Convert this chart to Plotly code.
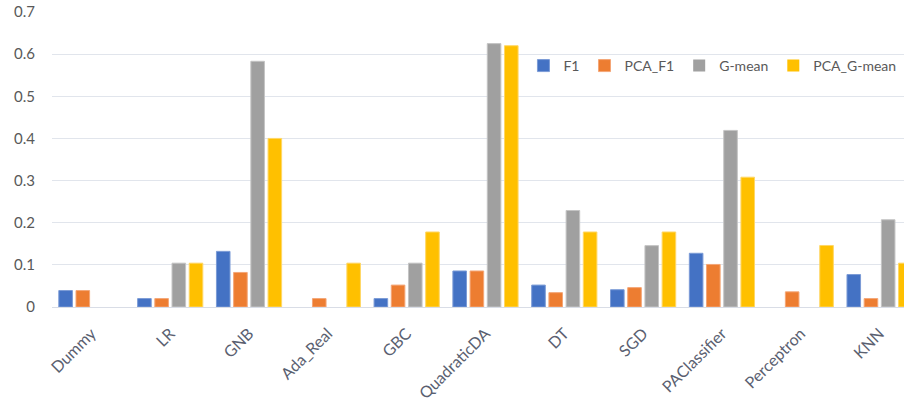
import plotly.graph_objects as go

categories = ["Dummy", "LR", "GNB", "Ada_Real", "GBC", "QuadraticDA", "DT", "SGD",
              "PAClassifier", "Perceptron", "KNN"]
f1 = [0.039, 0.020, 0.132, 0.0, 0.020, 0.0855, 0.052, 0.041, 0.1275, 0.0, 0.077]
pca_f1 = [0.039, 0.020, 0.082, 0.020, 0.052, 0.0855, 0.034, 0.046, 0.101, 0.036, 0.020]
g_mean = [0.0, 0.104, 0.583, 0.0, 0.104, 0.625, 0.229, 0.1456, 0.419, 0.0, 0.207]
pca_g_mean = [0.0, 0.104, 0.400, 0.104, 0.178, 0.620, 0.178, 0.178, 0.308, 0.146, 0.104]
y_ticks = [0, 0.1, 0.2, 0.3, 0.4, 0.5, 0.6, 0.7]
y_tick_labels = ["0", "0.1", "0.2", "0.3", "0.4", "0.5", "0.6", "0.7"]

series = [
    ("F1", f1, "#4472C4", "#7b9bd6"),
    ("PCA_F1", pca_f1, "#ED7D31", "#f4a677"),
    ("G-mean", g_mean, "#A0A0A0", "#c4c4c4"),
    ("PCA_G-mean", pca_g_mean, "#FFC000", "#ffd766"),
]

fig = go.Figure()
for name, vals, col, edge in series:
    widths = [1 if v > 0 else 0 for v in vals]
    fig.add_trace(go.Bar(
        x=categories, y=vals, name=name,
        marker=dict(color=col, line=dict(color=edge, width=widths)),
    ))

font_family = "Lato, 'Open Sans', sans-serif"
fig.update_layout(
    width=904, height=403,
    margin=dict(l=52, r=0, t=12, b=96, autoexpand=False),
    paper_bgcolor="white", plot_bgcolor="white",
    barmode="group", bargap=0.127, bargroupgap=0.21,
    font=dict(family=font_family, size=15, color="#595959"),
    showlegend=True,
    legend=dict(orientation="h", x=0.997, xanchor="right", y=0.817, yanchor="middle",
                font=dict(size=14, color="#595959"), bgcolor="rgba(0,0,0,0)",
                traceorder="normal", itemwidth=30),
    xaxis=dict(range=[-0.5, 10.31], tickangle=-45, showgrid=False, showline=True,
               linecolor="#d9dde6", linewidth=1, ticks="",
               ticklabelstandoff=10,
               tickfont=dict(size=16, color="#5a6070")),
    yaxis=dict(range=[0, 0.7], tickmode="array", tickvals=y_ticks, ticktext=y_tick_labels,
               showgrid=True, gridcolor="#e1e5ec",
               gridwidth=1, zeroline=False, showline=False, ticks="",
               ticklabelposition="outside", ticklabelstandoff=16,
               tickfont=dict(size=15, color="#595959")),
)

fig.write_html(
    "out.html",
    config={"displayModeBar": False},
    post_script="document.body.style.margin='0';document.body.style.overflow='hidden';",
)
